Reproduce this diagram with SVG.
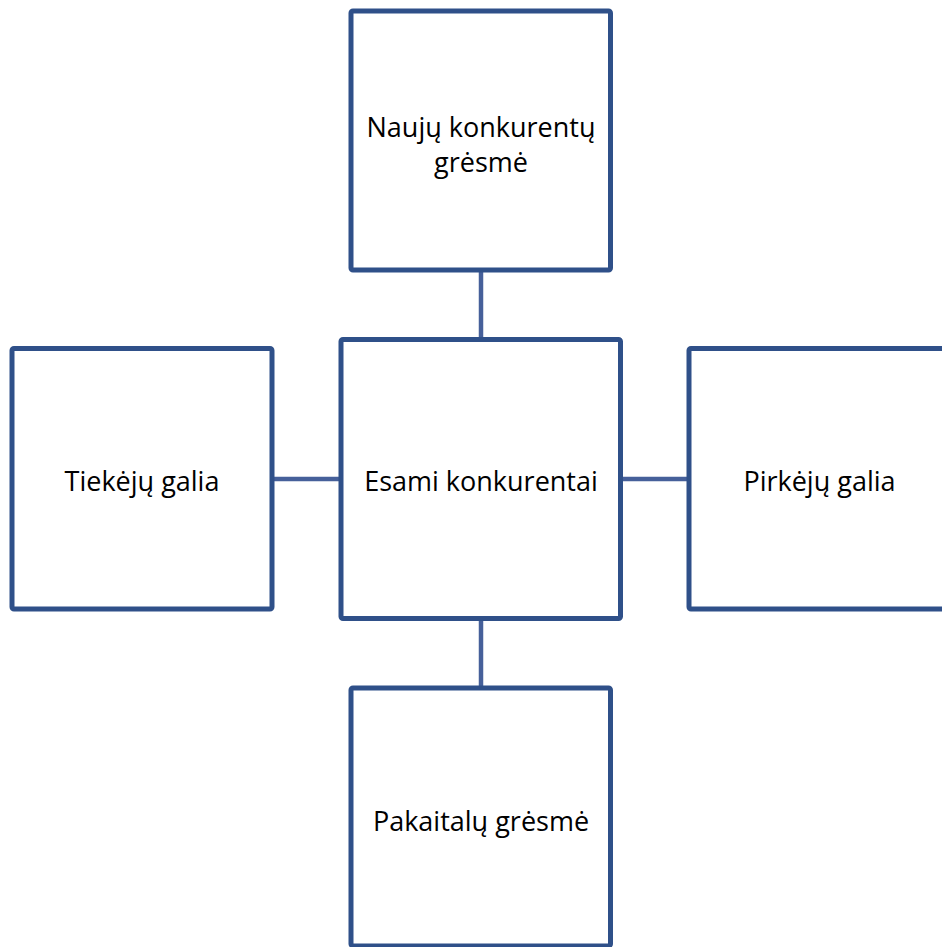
<svg xmlns="http://www.w3.org/2000/svg" width="942" height="947" viewBox="0 0 942 947">
  <style>
    .box { fill: #ffffff; stroke: #2f5089; stroke-width: 5; stroke-linejoin: round; }
    .link { stroke: #46609a; stroke-width: 4.5; fill: none; }
    .label { font-family: "Open Sans", "Noto Sans", "DejaVu Sans", sans-serif; font-size: 27px; fill: #000000; text-anchor: middle; }
  </style>
  <rect width="942" height="947" fill="#ffffff"/>

  <!-- connectors between the central box and the four forces -->
  <g id="connectors">
    <line class="link" x1="481" y1="270" x2="481" y2="339.5"/>
    <line class="link" x1="481" y1="618.5" x2="481" y2="688"/>
    <line class="link" x1="272" y1="479" x2="341" y2="479"/>
    <line class="link" x1="620.5" y1="479" x2="689" y2="479"/>
  </g>

  <g id="naujiKonkurentai">
    <rect class="box" x="351" y="11" width="259.5" height="259" rx="2"/>
    <text class="label" x="481" y="137">Naujų konkurentų</text>
    <text class="label" x="481" y="172">grėsmė</text>
  </g>

  <g id="esamiKonkurentai">
    <rect class="box" x="341" y="339.5" width="279.5" height="279" rx="2"/>
    <text class="label" x="481" y="491">Esami konkurentai</text>
  </g>

  <g id="tiekejuGalia">
    <rect class="box" x="12" y="348.5" width="260" height="260.5" rx="2"/>
    <text class="label" x="142" y="491">Tiekėjų galia</text>
  </g>

  <g id="pirkejuGalia">
    <rect class="box" x="689" y="348.5" width="260" height="260.5" rx="2"/>
    <text class="label" x="819.5" y="491">Pirkėjų galia</text>
  </g>

  <g id="pakaitaluGresme">
    <rect class="box" x="351" y="688" width="259.5" height="258" rx="2"/>
    <text class="label" x="481" y="831">Pakaitalų grėsmė</text>
  </g>
</svg>
